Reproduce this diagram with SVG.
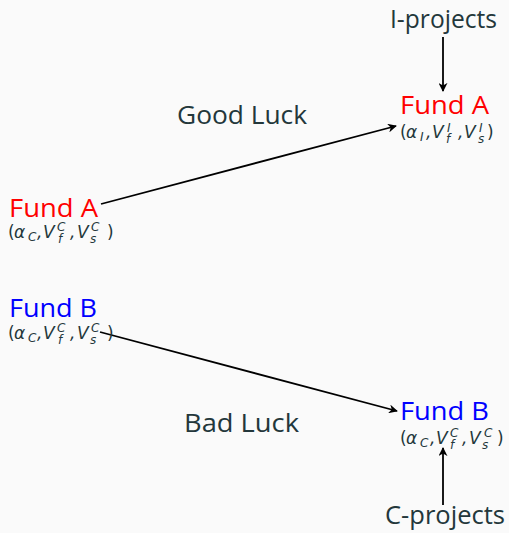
<svg xmlns="http://www.w3.org/2000/svg" width="509" height="533" viewBox="0 0 509 533">
<defs>
<marker id="ah" viewBox="0 0 10 10" refX="9" refY="5" markerWidth="9" markerHeight="9" markerUnits="userSpaceOnUse" orient="auto">
<path d="M0,0 L10,5 L0,10 L3,5 Z" fill="#000"/>
</marker>
</defs>
<style>
.bg{fill:#fafafa}
.lbl{font-family:"Open Sans",sans-serif;font-size:26px;fill:#23373b}
.red{font-family:"Open Sans",sans-serif;font-size:26px;fill:#ff0000}
.blue{font-family:"Open Sans",sans-serif;font-size:26px;fill:#0000ff}
.math{font-family:"DejaVu Sans",sans-serif;font-size:17px;fill:#23373b;font-style:italic}
.sub{font-size:12px}
.up{font-style:normal}
.conn line{stroke:#000;stroke-width:1.8;marker-end:url(#ah)}
</style>
<rect class="bg" x="0" y="0" width="509" height="533"/>
<g class="conn" id="connectors">
<line x1="101" y1="204" x2="396" y2="126"/>
<line x1="100" y1="332" x2="397" y2="411"/>
<line x1="443" y1="37" x2="443" y2="91"/>
<line x1="443" y1="505" x2="443" y2="448"/>
</g>
<g id="iprojects"><text class="lbl" x="390" y="28" textLength="107" lengthAdjust="spacingAndGlyphs">I-projects</text></g>
<g id="goodluck"><text class="lbl" x="177" y="124" textLength="130" lengthAdjust="spacingAndGlyphs">Good Luck</text></g>
<g id="badluck"><text class="lbl" x="184" y="432" textLength="115" lengthAdjust="spacingAndGlyphs">Bad Luck</text></g>
<g id="cprojects"><text class="lbl" x="385" y="524" textLength="120" lengthAdjust="spacingAndGlyphs">C-projects</text></g>
<g id="fundA-top">
<text class="red" x="400" y="114" textLength="89" lengthAdjust="spacingAndGlyphs">Fund A</text>
<text class="math"><tspan class="up" x="400" y="138">(</tspan><tspan x="406" y="138">α</tspan><tspan class="sub" x="420" y="141">I</tspan><tspan x="426" y="138">,</tspan><tspan x="432" y="138">V</tspan><tspan class="sub" x="447" y="132">I</tspan><tspan class="sub" x="446" y="143">f</tspan><tspan x="458" y="138">,</tspan><tspan x="464" y="138">V</tspan><tspan class="sub" x="479" y="132">I</tspan><tspan class="sub" x="478" y="143">s</tspan><tspan class="up" x="487" y="138">)</tspan></text>
</g>
<g id="fundA-left">
<text class="red" x="9" y="217" textLength="89" lengthAdjust="spacingAndGlyphs">Fund A</text>
<text class="math"><tspan class="up" x="8" y="238">(</tspan><tspan x="14" y="238">α</tspan><tspan class="sub" x="28" y="241">C</tspan><tspan x="37" y="238">,</tspan><tspan x="43" y="238">V</tspan><tspan class="sub" x="57" y="231">C</tspan><tspan class="sub" x="58" y="243">f</tspan><tspan x="70" y="238">,</tspan><tspan x="77" y="238">V</tspan><tspan class="sub" x="91" y="231">C</tspan><tspan class="sub" x="90" y="243">s</tspan><tspan class="up" x="107" y="238">)</tspan></text>
</g>
<g id="fundB-left">
<text class="blue" x="9" y="317" textLength="88" lengthAdjust="spacingAndGlyphs">Fund B</text>
<text class="math"><tspan class="up" x="8" y="339">(</tspan><tspan x="14" y="339">α</tspan><tspan class="sub" x="28" y="342">C</tspan><tspan x="37" y="339">,</tspan><tspan x="43" y="339">V</tspan><tspan class="sub" x="57" y="332">C</tspan><tspan class="sub" x="58" y="344">f</tspan><tspan x="70" y="339">,</tspan><tspan x="77" y="339">V</tspan><tspan class="sub" x="91" y="332">C</tspan><tspan class="sub" x="90" y="344">s</tspan><tspan class="up" x="107" y="339">)</tspan></text>
</g>
<g id="fundB-right">
<text class="blue" x="400" y="420" textLength="89" lengthAdjust="spacingAndGlyphs">Fund B</text>
<text class="math"><tspan class="up" x="400" y="444">(</tspan><tspan x="406" y="444">α</tspan><tspan class="sub" x="420" y="447">C</tspan><tspan x="430" y="444">,</tspan><tspan x="436" y="444">V</tspan><tspan class="sub" x="450" y="437">C</tspan><tspan class="sub" x="450" y="449">f</tspan><tspan x="462" y="444">,</tspan><tspan x="469" y="444">V</tspan><tspan class="sub" x="484" y="437">C</tspan><tspan class="sub" x="482" y="449">s</tspan><tspan class="up" x="497" y="444">)</tspan></text>
</g>
</svg>
